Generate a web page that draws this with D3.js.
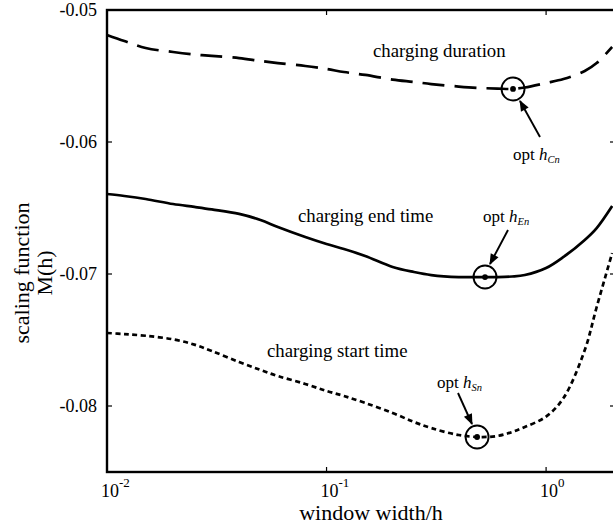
<!DOCTYPE html>
<html>
<head>
<meta charset="utf-8">
<style>
  body { margin: 0; background: #fff; }
  text { font-family: "Liberation Serif", "Times New Roman", serif; fill: #000; }
</style>
</head>
<body>
<div id="chart"></div>
<script src="https://d3js.org/d3.v7.min.js"></script>
<script>
// window widths (h) where M(h) was read
var widths = [0.01, 0.012, 0.015, 0.02, 0.025, 0.03, 0.04, 0.05, 0.06, 0.08,
              0.1, 0.12, 0.15, 0.2, 0.25, 0.3, 0.4, 0.5, 0.6, 0.7,
              0.8, 1.0, 1.2, 1.5, 1.7, 2.0];

var durationM = [-0.05189, -0.05235, -0.05288, -0.05318, -0.05337, -0.05348, -0.05364, -0.05386, -0.05402, -0.05424,
                 -0.05447, -0.05470, -0.05492, -0.05527, -0.05545, -0.05561, -0.05580, -0.05591, -0.05595, -0.05598,
                 -0.05587, -0.05553, -0.05523, -0.05462, -0.05402, -0.05280];

var endTimeM = [-0.06394, -0.06409, -0.06432, -0.06470, -0.06492, -0.06511, -0.06545, -0.06591, -0.06644, -0.06720,
                -0.06773, -0.06811, -0.06864, -0.06947, -0.06985, -0.07008, -0.07023, -0.07023, -0.07023, -0.07019,
                -0.07008, -0.06955, -0.06871, -0.06742, -0.06652, -0.06485];

var startTimeM = [-0.07447, -0.07455, -0.07468, -0.07495, -0.07535, -0.07583, -0.07667, -0.07727, -0.07773, -0.07833,
                  -0.07886, -0.07924, -0.07977, -0.08053, -0.08121, -0.08167, -0.08220, -0.08235, -0.08227, -0.08197,
                  -0.08159, -0.08080, -0.07940, -0.07576, -0.07250, -0.06841];

// optimum window widths (marked with circles)
var optNames = ["Cn", "En", "Sn"];
var optH = [0.707, 0.527, 0.485];
var optM = [-0.05598, -0.07023, -0.08235];

var yTicks = [-0.05, -0.06, -0.07, -0.08];
var yTickLabels = ["-0.05", "-0.06", "-0.07", "-0.08"];
var xTicks = [0.01, 0.1, 1];
var xTickExp = ["-2", "-1", "0"];

var width = 613, height = 528;
var margin = {left: 107, top: 10, right: -2, bottom: 56};

var svg = d3.select("#chart").append("svg")
    .attr("width", width)
    .attr("height", height);

var x = d3.scaleLog()
    .domain([0.01, 2.06])
    .range([margin.left, width - margin.right]);

var y = d3.scaleLinear()
    .domain([-0.085, -0.05])
    .range([height - margin.bottom, margin.top]);

var x0 = x.range()[0], x1 = x.range()[1];
var y0 = y.range()[0], y1 = y.range()[1];

// curves
var line = d3.line()
    .x(function(d) { return x(d[0]); })
    .y(function(d) { return y(d[1]); })
    .curve(d3.curveCatmullRom.alpha(0.5));

var series = [
  {values: durationM, dash: "22,10"},
  {values: endTimeM, dash: null},
  {values: startTimeM, dash: "5,3.5"}
];

svg.append("g").selectAll("path")
    .data(series)
    .enter().append("path")
    .attr("d", function(s) { return line(d3.zip(widths, s.values)); })
    .attr("fill", "none")
    .attr("stroke", "#000")
    .attr("stroke-width", 2.7)
    .attr("stroke-dasharray", function(s) { return s.dash; });

// frame
svg.append("rect")
    .attr("x", x0).attr("y", y1)
    .attr("width", x1 - x0).attr("height", y0 - y1)
    .attr("fill", "none")
    .attr("stroke", "#000")
    .attr("stroke-width", 2.4);

// ticks (inward)
var tickLen = 5;
var ticks = svg.append("g").attr("stroke", "#000").attr("stroke-width", 1.2);
yTicks.forEach(function(t) {
  ticks.append("line").attr("x1", x0).attr("x2", x0 + tickLen).attr("y1", y(t)).attr("y2", y(t));
  ticks.append("line").attr("x1", x1).attr("x2", x1 - tickLen).attr("y1", y(t)).attr("y2", y(t));
});
xTicks.forEach(function(t) {
  ticks.append("line").attr("x1", x(t)).attr("x2", x(t)).attr("y1", y0).attr("y2", y0 - tickLen);
  ticks.append("line").attr("x1", x(t)).attr("x2", x(t)).attr("y1", y1).attr("y2", y1 + tickLen);
});

// tick labels
svg.append("g").selectAll("text")
    .data(yTicks)
    .enter().append("text")
    .attr("x", x0 - 10)
    .attr("y", function(d) { return y(d) + 6; })
    .attr("text-anchor", "end")
    .style("font-size", "18px")
    .text(function(d, i) { return yTickLabels[i]; });

var xl = svg.append("g").selectAll("text")
    .data(xTicks)
    .enter().append("text")
    .attr("x", function(d) { return x(d) - 6; })
    .attr("y", y0 + 25)
    .style("font-size", "18px");
xl.append("tspan").text("10");
xl.append("tspan")
    .attr("dy", -10)
    .style("font-size", "13px")
    .text(function(d, i) { return xTickExp[i]; });

// axis titles
svg.append("text")
    .attr("x", 371)
    .attr("y", 520)
    .attr("text-anchor", "middle")
    .style("font-size", "22px")
    .text("window width/h");

var yt = svg.append("text")
    .attr("transform", "translate(29,273) rotate(-90)")
    .attr("text-anchor", "middle")
    .style("font-size", "22px");
yt.append("tspan").attr("x", 0).attr("dy", 0).text("scaling function");
yt.append("tspan").attr("x", 0).attr("dy", 23).text("M(h)");

// curve names
var curveNames = [
  {text: "charging duration", x: 373, y: 57},
  {text: "charging end time", x: 298, y: 222},
  {text: "charging start time", x: 267, y: 357}
];
svg.append("g").selectAll("text")
    .data(curveNames)
    .enter().append("text")
    .attr("x", function(d) { return d.x; })
    .attr("y", function(d) { return d.y; })
    .style("font-size", "18.8px")
    .text(function(d) { return d.text; });

// optimum markers
svg.append("defs").append("marker")
    .attr("id", "arrow")
    .attr("viewBox", "0 0 10 10")
    .attr("refX", 9).attr("refY", 5)
    .attr("markerUnits", "userSpaceOnUse")
    .attr("markerWidth", 14).attr("markerHeight", 11)
    .attr("orient", "auto")
    .append("path")
    .attr("d", "M0,1 L10,5 L0,9 z")
    .attr("fill", "#000");

var opts = svg.append("g");
optH.forEach(function(h, i) {
  var cx = x(h), cy = y(optM[i]);
  opts.append("circle").attr("cx", cx).attr("cy", cy).attr("r", 11.5)
      .attr("fill", "none").attr("stroke", "#000").attr("stroke-width", 1.9);
  opts.append("circle").attr("cx", cx).attr("cy", cy).attr("r", 2.9).attr("fill", "#000");
});

// arrows and labels: tail, tip, label position
var arrows = [
  {tail: [540, 137], tip: [520, 101], lx: 513, ly: 160},
  {tail: [508, 230], tip: [490, 264], lx: 483, ly: 222},
  {tail: [458, 393], tip: [472, 424], lx: 437, ly: 388}
];
arrows.forEach(function(a, i) {
  opts.append("line")
      .attr("x1", a.tail[0]).attr("y1", a.tail[1])
      .attr("x2", a.tip[0]).attr("y2", a.tip[1])
      .attr("stroke", "#000").attr("stroke-width", 1.9)
      .attr("marker-end", "url(#arrow)");
  var t = opts.append("text").attr("x", a.lx).attr("y", a.ly).style("font-size", "17px");
  t.append("tspan").text("opt ");
  t.append("tspan").style("font-style", "italic").text("h");
  t.append("tspan").attr("dy", 3).style("font-size", "10.5px").style("font-style", "italic").text(optNames[i]);
});
</script>
</body>
</html>
